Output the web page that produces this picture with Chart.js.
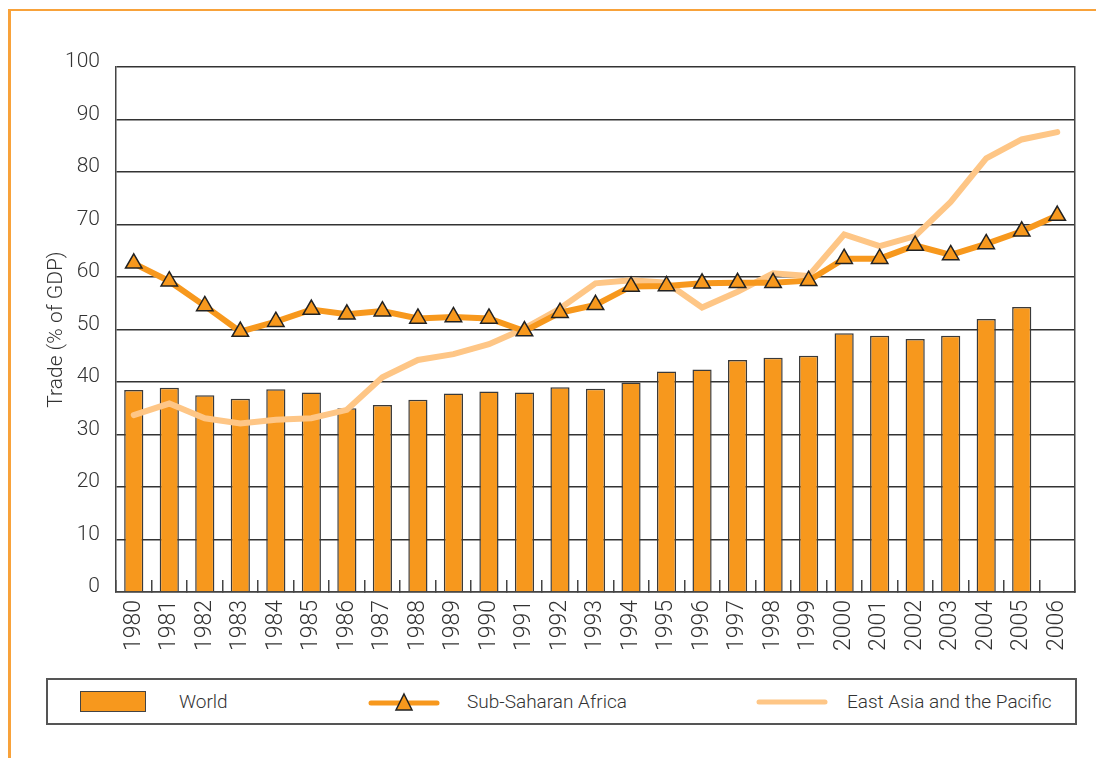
<!DOCTYPE html>
<html>
<head>
<meta charset="utf-8">
<script src="https://cdn.jsdelivr.net/npm/chart.js@4.4.1/dist/chart.umd.min.js"></script>
<style>
html, body { margin: 0; padding: 0; background: #fff; }
body { width: 1096px; height: 758px; position: relative; overflow: hidden; font-family: Roboto, "Liberation Sans", sans-serif; font-weight: 300; color: #333; }
#frame { position: absolute; left: 8px; top: 9px; width: 1200px; height: 800px; border-top: 2px solid #F8A23A; border-left: 3px solid #F8A23A; }
#chart { position: absolute; left: 0; top: 0; }
#legend { position: absolute; left: 46px; top: 678px; width: 1027px; height: 43px; border: 2px solid #555; }
#legend .sw { position: absolute; top: 0; height: 43px; display: flex; align-items: center; }
#legend .tx { position: absolute; top: 0; height: 43px; line-height: 43px; font-size: 19px; color: #333; white-space: nowrap; }
</style>
</head>
<body>
<div id="frame"></div>
<canvas id="chart" width="1096" height="670"></canvas>
<div id="legend"></div>
<script>
const years = ['1980','1981','1982','1983','1984','1985','1986','1987','1988','1989','1990','1991','1992','1993',
  '1994','1995','1996','1997','1998','1999','2000','2001','2002','2003','2004','2005','2006'];
const world = [38.5, 38.9, 37.5, 36.8, 38.6, 38.0, 35.0, 35.6, 36.6, 37.8, 38.2, 38.0, 39.0, 38.7,
  39.9, 42.0, 42.4, 44.2, 44.6, 45.0, 49.3, 48.8, 48.2, 48.8, 52.0, 54.3, null];
const ssAfrica = [62.6, 59.2, 54.5, 49.6, 51.5, 53.8, 52.9, 53.5, 52.1, 52.4, 52.1, 49.7, 53.2, 54.7,
  58.2, 58.3, 58.8, 58.9, 58.9, 59.3, 63.5, 63.5, 66.0, 64.2, 66.3, 68.7, 71.7];
const eastAsia = [33.7, 35.9, 33.1, 32.1, 32.8, 33.1, 34.7, 40.9, 44.2, 45.3, 47.2, 50.2, 54.0, 58.8,
  59.4, 58.9, 54.2, 57.2, 60.7, 60.2, 68.1, 65.9, 67.8, 74.3, 82.6, 86.2, 87.6];
const yMin = 0, yMax = 100, yStep = 10;

const orange = '#F7981D';
const peach = '#FEC686';
const ink = '#333333';
const font = 'Roboto, "Liberation Sans", sans-serif';

const chart = new Chart('chart', {
  type: 'bar',
  data: {
    labels: years,
    datasets: [
      {
        type: 'line', label: 'Sub-Saharan Africa', data: ssAfrica,
        borderColor: orange, borderWidth: 6, tension: 0,
        pointStyle: 'triangle', pointRadius: 9.5,
        pointBackgroundColor: orange, pointBorderColor: '#222', pointBorderWidth: 1.5,
        order: 1
      },
      {
        type: 'line', label: 'East Asia and the Pacific', data: eastAsia,
        borderColor: peach, borderWidth: 6, tension: 0, pointRadius: 0,
        borderCapStyle: 'round', order: 2
      },
      {
        type: 'bar', label: 'World', data: world,
        backgroundColor: orange, borderColor: '#3a3a3a', borderWidth: 1.5,
        barPercentage: 0.54, categoryPercentage: 1, order: 3
      }
    ]
  },
  options: {
    responsive: false,
    animation: false,
    layout: { padding: { left: 0, right: 21, top: 67, bottom: 0 } },
    plugins: { legend: { display: false }, tooltip: { enabled: false } },
    scales: {
      x: {
        offset: true,
        grid: { offset: true, drawOnChartArea: false, drawTicks: true, tickLength: -12, color: '#444', lineWidth: 1.5 },
        border: { color: '#444', width: 1.5 },
        ticks: { minRotation: 90, maxRotation: 90, padding: 20, color: ink, font: { family: font, size: 23, weight: 300 } },
        afterFit(s) {
          s.height = 670 - 592;
          s.paddingLeft = 0;
          s.paddingRight = 0;
        }
      },
      y: {
        min: yMin, max: yMax,
        ticks: {
          stepSize: yStep, padding: 16, color: ink,
          font: { family: font, size: 21, weight: 300, lineHeight: '10px' },
          callback: (v) => [String(v), '']
        },
        grid: { drawTicks: false, color: '#333', lineWidth: 1.5 },
        border: { color: '#444', width: 1.5 },
        title: {
          display: true, text: 'Trade (% of GDP)', color: ink,
          font: { family: font, size: 21, weight: 300 },
          padding: { top: 44, bottom: 0 }
        },
        afterFit(s) { s.width = 116; }
      },
      y2: {
        position: 'right', min: yMin, max: yMax,
        ticks: { display: false },
        grid: { drawOnChartArea: false, drawTicks: false },
        border: { color: '#444', width: 1.5 },
        afterFit(s) { s.width = 0; }
      }
    }
  }
});

// html legend built from the datasets
const legendSpots = { 'World': [32, 131], 'Sub-Saharan Africa': [320, 419], 'East Asia and the Pacific': [708, 799] };
const legend = document.getElementById('legend');
['World', 'Sub-Saharan Africa', 'East Asia and the Pacific'].forEach((name) => {
  const ds = chart.data.datasets.find(d => d.label === name);
  const sw = document.createElement('div');
  sw.className = 'sw';
  sw.style.left = legendSpots[name][0] + 'px';
  if (ds.type === 'bar') {
    sw.innerHTML = `<div style="width:64px;height:19px;background:${ds.backgroundColor};border:1.5px solid #444"></div>`;
  } else if (ds.pointStyle === 'triangle') {
    sw.innerHTML = `<svg width="72" height="24"><line x1="3" y1="13" x2="69" y2="13" stroke="${ds.borderColor}" stroke-width="5" stroke-linecap="round"/>` +
      `<polygon points="36,4 44,20 28,20" fill="${ds.pointBackgroundColor}" stroke="#222" stroke-width="1.5"/></svg>`;
  } else {
    sw.innerHTML = `<svg width="72" height="24"><line x1="3" y1="12" x2="69" y2="12" stroke="${ds.borderColor}" stroke-width="5" stroke-linecap="round"/></svg>`;
  }
  legend.appendChild(sw);
  const tx = document.createElement('div');
  tx.className = 'tx';
  tx.style.left = legendSpots[name][1] + 'px';
  tx.textContent = name;
  legend.appendChild(tx);
});
</script>
</body>
</html>
